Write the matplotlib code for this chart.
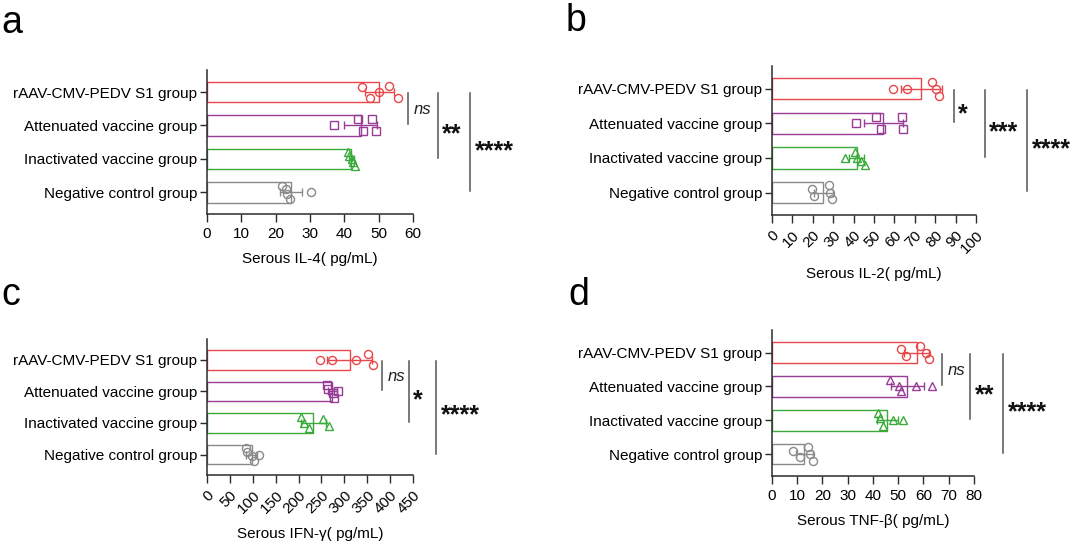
import numpy as np
import matplotlib
matplotlib.use("Agg")
from matplotlib import pyplot as plt

plt.rcParams['font.family'] = ['Liberation Sans', 'DejaVu Sans']

groups = ["rAAV-CMV-PEDV S1 group", "Attenuated vaccine group",
          "Inactivated vaccine group", "Negative control group"]

# per-animal values (pg/mL)
il4_vals = [[45, 47.5, 50, 53, 55.5], [37, 44, 45.3, 48.2, 49.2],
            [41, 41.5, 42.2, 42.5, 43], [21.8, 23, 23.2, 24.3, 30.2]]
il2_vals = [[59.2, 66.3, 78.4, 80.3, 81.8], [41, 50.8, 53.6, 63.7, 64],
            [36, 40.6, 41.8, 43.5, 45.5], [19.6, 20.7, 28, 28.3, 29.2]]
ifng_vals = [[247.5, 274, 325, 351, 362], [262.5, 265, 274.5, 277.5, 287],
             [205, 212, 222, 253.5, 267], [85, 87, 98, 103.5, 113]]
tnf_vals = [[51, 53, 58.8, 61.2, 62.3], [46.8, 50.2, 51, 57, 63.2],
            [42, 42.7, 43.8, 47.8, 51.9], [8.3, 10.9, 14.1, 15, 16.1]]

# vertical scatter of the dots inside each bar
il4_jit = [[-0.15, 0.17, 0, -0.17, 0.17], [0, -0.18, 0.16, -0.18, 0.16],
           [-0.2, -0.1, 0, 0.1, 0.2], [-0.2, -0.1, 0.05, 0.2, 0]]
il2_jit = [[0, 0, -0.2, 0, 0.2], [0, -0.17, 0.17, -0.17, 0.17],
           [0, -0.18, 0, 0.1, 0.2], [-0.1, 0.1, -0.22, 0, 0.2]]
ifng_jit = [[0, 0, 0, -0.19, 0.16], [-0.2, -0.07, 0.05, 0.2, 0],
            [-0.2, 0, 0.16, -0.12, 0.1], [-0.2, -0.07, 0.05, 0.2, 0]]
tnf_jit = [[-0.11, 0.09, -0.2, 0, 0.19], [-0.18, 0, 0.15, 0, 0],
           [-0.2, -0.05, 0.17, 0, 0], [-0.1, 0.1, -0.2, 0, 0.22]]

il4_sig = ['ns', '**', '****']
il2_sig = ['*', '***', '****']
ifng_sig = ['ns', '*', '****']
tnf_sig = ['ns', '**', '****']

colors = ['#e8474a', '#973d96', '#3aab3a', '#8a8a8a']
axis_col = '#2b2b2b'
sig_col = '#555555'
fs = 11


def draw_panel(ax, vals, jit, markers, xmax, xstep, xlabel, sig, sig_x, rotate):
    ypos = np.arange(len(groups))
    for i, v in enumerate(vals):
        v = np.array(v, dtype=float)
        m = v.mean()
        sd = v.std(ddof=1)
        ax.barh(ypos[i], m, height=0.62, color='white', edgecolor=colors[i],
                linewidth=1.0, zorder=2)
        ax.errorbar(m, ypos[i], xerr=sd, fmt='none', ecolor=colors[i],
                    elinewidth=1.0, capsize=3, capthick=1.0, zorder=3)
        ax.plot(v, ypos[i] + np.array(jit[i]), linestyle='none',
                marker=markers[i], markersize=5.8, markerfacecolor='none',
                markeredgecolor=colors[i], markeredgewidth=1.0, zorder=4)

    ax.set_xlim(0, xmax)
    ax.set_ylim(3.65, -0.66)
    ax.set_yticks(ypos)
    ax.set_yticklabels(groups, fontsize=fs)
    ticks = np.arange(0, xmax + xstep / 2, xstep)
    ax.set_xticks(ticks)
    if rotate:
        ax.set_xticklabels([f"{t:g}" for t in ticks], fontsize=fs,
                           rotation=45, ha='right', rotation_mode='anchor')
    else:
        ax.set_xticklabels([f"{t:g}" for t in ticks], fontsize=fs)
    ax.set_xlabel(xlabel, fontsize=fs, labelpad=8)

    for s in ['top', 'right']:
        ax.spines[s].set_visible(False)
    for s in ['left', 'bottom']:
        ax.spines[s].set_linewidth(1.1)
        ax.spines[s].set_color(axis_col)
    ax.tick_params(axis='y', length=5, width=1.0, color=axis_col, pad=2)
    ax.tick_params(axis='x', length=5.5, width=1.0, color=axis_col, pad=4)

    # significance brackets, all against the rAAV group
    for k, (lab, x) in enumerate(zip(sig, sig_x)):
        end = k + 1
        ax.plot([x, x], [0.03, end - 0.03], color=sig_col, linewidth=1.1,
                clip_on=False)
        ymid = end / 2.0 + 0.03
        if lab == 'ns':
            ax.annotate(lab, (x, ymid), xytext=(4, 0), textcoords='offset points',
                        fontsize=12, style='italic', va='center', ha='left',
                        color='#222222', annotation_clip=False)
        else:
            ax.annotate(lab, (x, ymid), xytext=(2.5, -5.5), textcoords='offset points',
                        fontsize=18, style='italic', fontweight='bold',
                        va='center', ha='left', color='#111111',
                        annotation_clip=False)


fig = plt.figure(figsize=(10.8, 5.44), dpi=100)
ax_a = fig.add_axes([0.1917, 0.6066, 0.1907, 0.2647])
ax_b = fig.add_axes([0.7148, 0.6048, 0.1890, 0.2740])
ax_c = fig.add_axes([0.1917, 0.1268, 0.1907, 0.2500])
ax_d = fig.add_axes([0.7148, 0.1250, 0.1870, 0.2680])

draw_panel(ax_a, il4_vals, il4_jit, ['o', 's', '^', 'o'], 60, 10,
           "Serous IL-4( pg/mL)", il4_sig, [58.5, 67.2, 76.7], False)
draw_panel(ax_b, il2_vals, il2_jit, ['o', 's', '^', 'o'], 100, 10,
           "Serous IL-2( pg/mL)", il2_sig, [89, 104.2, 125], True)
draw_panel(ax_c, ifng_vals, ifng_jit, ['o', 's', '^', 'o'], 450, 50,
           "Serous IFN-γ( pg/mL)", ifng_sig, [382.5, 441, 501], True)
draw_panel(ax_d, tnf_vals, tnf_jit, ['o', '^', '^', 'o'], 80, 10,
           "Serous TNF-β( pg/mL)", tnf_sig, [67.3, 78.5, 91.6], False)

# panel letters
fig.text(0.001, 0.94, 'a', fontsize=27, va='baseline', ha='left')
fig.text(0.524, 0.943, 'b', fontsize=27, va='baseline', ha='left')
fig.text(0.001, 0.44, 'c', fontsize=27, va='baseline', ha='left')
fig.text(0.526, 0.44, 'd', fontsize=27, va='baseline', ha='left')

fig.savefig('out.png', dpi=100, facecolor='white')
